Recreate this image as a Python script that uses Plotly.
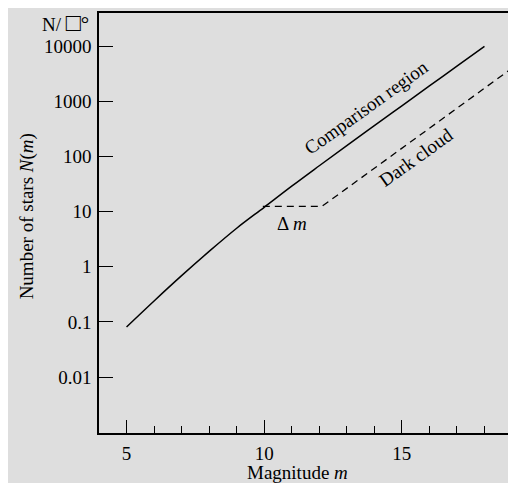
import math
import plotly.graph_objects as go

# Comparison region (solid)
comp_m = [5, 6, 7, 8, 9, 10, 11, 12, 13, 14, 15, 16, 17, 18]
comp_n = [0.081, 0.24, 0.69, 1.9, 5.0, 12.0, 29.0, 68.0, 158.0, 363.0, 832.0, 1905.0, 4365.0, 10000.0]

# Dark cloud (dashed)
dark_m = [9.95, 12.1, 19.0]
dark_n = [12.5, 12.5, 4000.0]

y_tickvals = [0.01, 0.1, 1, 10, 100, 1000, 10000]
y_ticktext = ["0.01", "0.1", "1", "10", "100", "1000", "10000"]
x_tickvals = [5, 10, 15]

FONT = "Liberation Serif, Times New Roman, serif"
BG = "#dedede"

PW = 415  # plot width in px
PH = 420  # plot height in px

fig = go.Figure()
fig.add_trace(go.Scatter(x=comp_m, y=comp_n, mode="lines",
                         line=dict(color="black", width=1.5, shape="spline"),
                         showlegend=False, hoverinfo="skip"))
fig.add_trace(go.Scatter(x=dark_m, y=dark_n, mode="lines",
                         line=dict(color="black", width=1.3, dash="7px,5px"),
                         showlegend=False, hoverinfo="skip"))

fig.update_layout(
    width=508, height=475,
    margin=dict(l=91, r=2, t=5, b=50),
    paper_bgcolor=BG, plot_bgcolor=BG,
    font=dict(family=FONT, size=19, color="black"),
    showlegend=False,
)
fig.update_xaxes(
    range=[4, 19.0], tickvals=x_tickvals, ticktext=[str(v) for v in x_tickvals],
    ticks="inside", ticklen=13, tickwidth=1.3, tickcolor="black",
    minor=dict(dtick=1, tick0=0, ticks="inside", ticklen=7, tickwidth=1.2, tickcolor="black"),
    showline=True, linecolor="black", linewidth=1.6, mirror=True,
    showgrid=False, zeroline=False, ticklabelstandoff=2,
    tickfont=dict(family=FONT, size=19),
)
fig.update_yaxes(
    type="log", range=[-3.016, 4.604],
    tickvals=y_tickvals, ticktext=y_ticktext,
    ticks="inside", ticklen=14, tickwidth=1.3, tickcolor="black",
    showline=True, linecolor="black", linewidth=1.6, mirror=True,
    showgrid=False, zeroline=False, ticklabelstandoff=2,
    tickfont=dict(family=FONT, size=19),
)

ann_font = dict(family=FONT, size=19, color="black")
fig.add_annotation(x=13.70, y=math.log10(771), xref="x", yref="y", text="Comparison region",
                   textangle=-35.6, showarrow=False, font=ann_font)
fig.add_annotation(x=15.50, y=math.log10(98), xref="x", yref="y", text="Dark cloud",
                   textangle=-35.6, showarrow=False, font=ann_font)
fig.add_annotation(x=11.02, y=math.log10(6.05), xref="x", yref="y", text="Δ <i>m</i>",
                   showarrow=False, font=ann_font)
# Axis titles
fig.add_annotation(x=(298 - 99) / PW, y=-(472 - 433) / PH, xref="paper", yref="paper",
                   text="Magnitude <i>m</i>", showarrow=False, font=ann_font,
                   xanchor="center", yanchor="middle")
fig.add_annotation(x=-(99 - 27) / PW, y=(433 - 216) / PH, xref="paper", yref="paper",
                   text="Number of stars <i>N</i>(<i>m</i>)", textangle=-90, showarrow=False,
                   font=ann_font, xanchor="center", yanchor="middle")
fig.add_annotation(x=-(99 - 91) / PW, y=(433 - 22) / PH, xref="paper", yref="paper",
                   text="N/&nbsp;<span style='font-size:25px'>□</span><span style='font-size:21px'>°</span>",
                   showarrow=False, font=ann_font,
                   xanchor="right", yanchor="middle")

fig.write_html("out.html")
